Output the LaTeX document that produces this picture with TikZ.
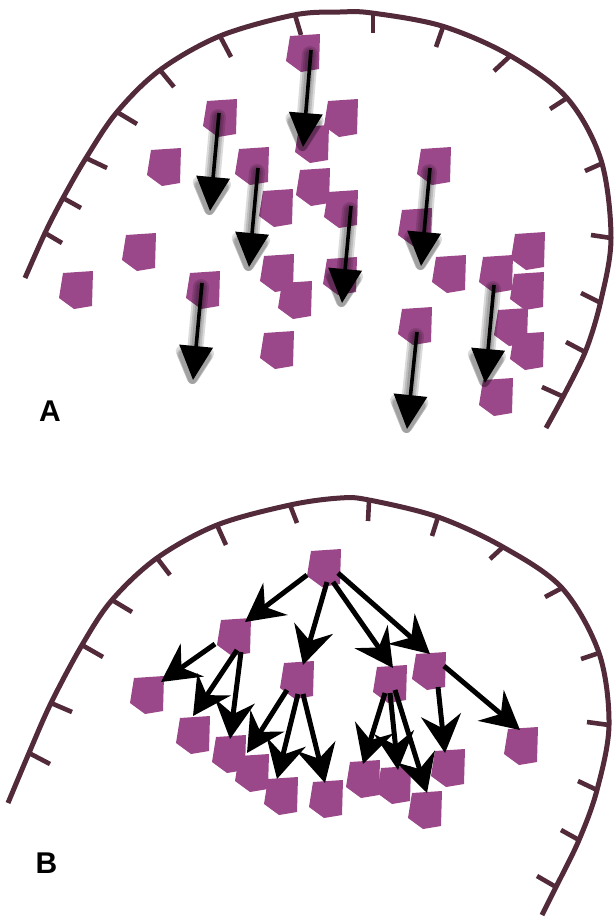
\documentclass[tikz,border=0pt]{standalone}
\usepackage{fontspec}
\setmainfont{Liberation Sans}
\usetikzlibrary{arrows.meta,calc}
\definecolor{cellc}{RGB}{155,72,138}
\definecolor{membc}{RGB}{82,42,58}
\tikzset{
  cellnode/.style={inner sep=0pt, minimum width=34pt, minimum height=37pt},
  memb/.style={membc, line width=5pt},
  memtick/.style={membc, line width=4.6pt},
  arrowA/.style={black, line width=3.6pt, -{Triangle[length=34pt,width=33pt]}},
  arrowB/.style={black, line width=5pt, -{Stealth[length=38pt,width=40pt,inset=13pt]}},
  lbl/.style={font=\fontsize{30}{30}\selectfont\bfseries, inner sep=0pt}
}
\newcommand\cellat[3]{%
  \fill[cellc, shift={(#2,#3)}] (-13,-17) -- (17,-19) -- (16,16) -- (-2,19) -- (-17,8) -- cycle;
  \node[cellnode] (#1) at (#2,#3) {};
}
\newcommand\shadowarrow[2]{%
  \foreach \w/\l/\k in {16pt/45pt/42pt, 12pt/41pt/39pt, 8pt/38pt/36pt}{%
    \begin{scope}[transparency group, opacity=0.14]
      \draw[black, line width=\w, line cap=round, line join=round,
        -{Triangle[length=\l, width=\k, round]}]
        ([shift={(-1,4)}]#1) -- ([shift={(-1,4)}]#2);
    \end{scope}}%
}
\begin{document}
\begin{tikzpicture}[x=1pt,y=-1pt]
\useasboundingbox (0,0) rectangle (614,919);

% ---------- panel A ----------
\draw[memb] plot[smooth, tension=0.55] coordinates {(25,278) (45,233) (63,198) (86,158) (117,112) (160,70) (220,36) (294,15) (340,12) (372,13) (442,26) (509,55) (567,98) (601,160) (611,238) (601,300) (586,350) (564,395) (546,428)};
\foreach \xa/\ya/\xb/\yb in {45/233/62/243, 63/198/81/208, 86/158/107/168, 117/112/137/124, 160/70/174/87, 221/38/231/57, 295/15/301/35, 373/13/373/33, 443/27/436/47, 509/57/494/71, 567/98/550/109, 603/163/585/171, 611/238/591/235, 601/303/581/293, 585/352/566/342, 564/397/542/387}
  \draw[memtick] (\xa,\ya) -- (\xb,\yb);

\foreach \n/\x/\y in {p1/303/53, p2/220/118, p3/341/118, p4/164/167, p5/252/166, p6/312/144, p7/434/166, p8/276/208, p9/313/187, p10/341/209, p11/415/227, p12/139/252, p13/76/290, p14/203/290, p15/277/273, p16/295/300, p17/340/276, p18/449/274, p19/496/274, p20/528/251, p21/527/291, p22/511/327, p23/527/351, p24/415/326, p25/277/350, p26/496/397}
  \cellat{\n}{\x}{\y};

\coordinate (a1s) at ($(p1)+(8,-3)$);   \coordinate (a1e) at (303,147);
\coordinate (a2s) at ($(p2)+(-1,-5)$);  \coordinate (a2e) at (210,211);
\coordinate (a3s) at ($(p5)+(6,2)$);    \coordinate (a3e) at (249,267);
\coordinate (a4s) at ($(p10)+(10,-3)$); \coordinate (a4e) at (342,303);
\coordinate (a5s) at ($(p7)+(-4,2)$);   \coordinate (a5e) at (421,266);
\coordinate (a6s) at ($(p14)+(-1,-7)$); \coordinate (a6e) at (193,380);
\coordinate (a7s) at ($(p19)+(-2,11)$); \coordinate (a7e) at (485,383);
\coordinate (a8s) at ($(p24)+(2,6)$);   \coordinate (a8e) at (407,429);

\foreach \i in {1,...,8}{\shadowarrow{a\i s}{a\i e}}
\foreach \i in {1,...,8}{\draw[arrowA] (a\i s) -- (a\i e);}

\node[lbl] (labA) at (50,411) {A};

% ---------- panel B ----------
\draw[memb] plot[smooth, tension=0.55] coordinates {(8,803) (29,753) (51,703) (82,645) (112,600) (157,558) (217,525) (290,505) (340,498) (369,500) (438,517) (503,547) (562,588) (599,653) (609,725) (597,790) (579,840) (556,887) (542,915)};
\foreach \xa/\ya/\xb/\yb in {29/753/50/764, 51/703/72/712, 82/645/103/657, 112/600/132/612, 157/558/170/575, 217/525/226/545, 290/505/297/523, 369/501/368/521, 438/517/432/536, 503/547/490/559, 562/588/545/597, 599/653/581/659, 609/725/587/722, 597/790/578/781, 579/840/561/830, 556/887/537/876}
  \draw[memtick] (\xa,\ya) -- (\xb,\yb);

\foreach \n/\x/\y in {root/324/568, L1/234/637, M1/297/680, R1/390/684, R2/429/671, RR/521/746, LL1/147/695, LL2/193/735, LL3/229/754, C1/252/773, C2/281/796, C3/326/799, D1/363/779, D2/394/785, D3/425/810, E1/448/768}
  \cellat{\n}{\x}{\y};

\foreach \s/\sx/\sy/\t/\tx/\ty in {root/-17/7/L1/11/-15, root/3/14/M1/6/-15, root/9/14/R1/3/-16, root/14/5/R2/1/-17, L1/-19/7/LL1/14/-13, L1/3/13/LL2/0/-19, L1/7/15/LL3/1/-15, M1/-10/10/C1/-5/-20, M1/1/14/C2/-4/-17, M1/6/14/C3/-1/-16, R1/-5/9/D1/0/-15, R1/0/9/D2/4/-15, R1/5/6/D3/2/-17, R2/9/16/E1/-3/-15, R2/15/-5/RR/-1/-16}
  \draw[arrowB] ($(\s)+(\sx,\sy)$) -- ($(\t)+(\tx,\ty)$);

\node[lbl] (labB) at (46.5,863.5) {B};
\end{tikzpicture}
\end{document}
